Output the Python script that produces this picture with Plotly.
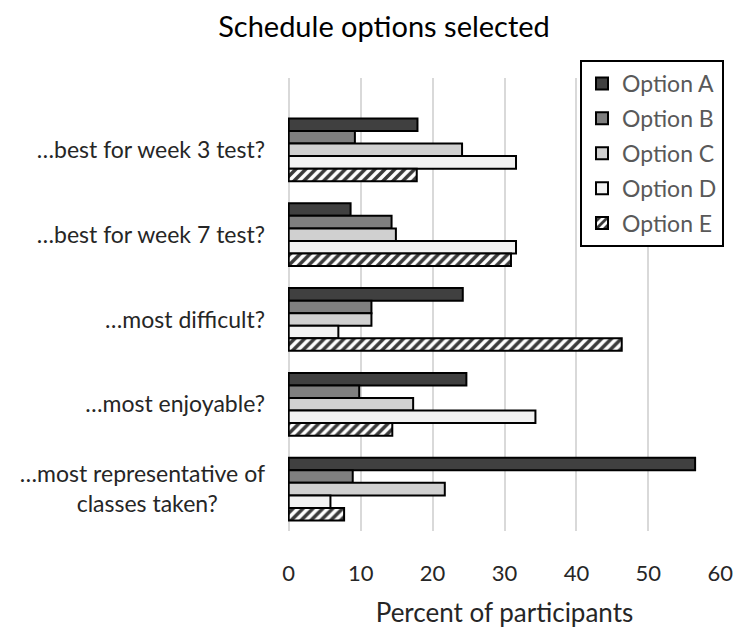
import plotly.graph_objects as go

categories = [
    "…best for week 3 test?",
    "…best for week 7 test?",
    "…most difficult?",
    "…most enjoyable?",
    "…most representative of classes taken?",
]
tick_text = [
    "…best for week 3 test?",
    "…best for week 7 test?",
    "…most difficult?",
    "…most enjoyable?",
    "…most representative of<br>classes taken?" + "\u00a0" * 8,
]
series_names = ["Option A", "Option B", "Option C", "Option D", "Option E"]
option_a = [17.9, 8.6, 24.2, 24.7, 56.5]
option_b = [9.2, 14.3, 11.5, 9.8, 8.9]
option_c = [24.1, 14.9, 11.5, 17.3, 21.7]
option_d = [31.6, 31.6, 6.9, 34.3, 5.8]
option_e = [17.8, 30.9, 46.3, 14.4, 7.7]
x_ticks = [0, 10, 20, 30, 40, 50, 60]

values = [option_a, option_b, option_c, option_d, option_e]
fills = ["#404040", "#7f7f7f", "#d0d0d0", "#f2f2f2", "#ffffff"]

FONT = "Lato, Open Sans, sans-serif"

fig = go.Figure()
for i, (name, vals, col) in enumerate(zip(series_names, values, fills)):
    marker = dict(color=col, line=dict(color="#000000", width=2))
    if name == "Option E":
        marker["pattern"] = dict(shape="/", fgcolor="#3a3a3a", bgcolor="#ffffff",
                                 size=7, solidity=0.5, fillmode="replace")
    fig.add_trace(go.Bar(
        y=categories, x=vals, name=name, orientation="h",
        marker=marker, legendgroup=name,
    ))

W, H = 738, 633
L, T = 288, 78
PW, PH = 433, 453
fig.update_layout(
    width=W, height=H,
    barmode="group", bargap=0.26, bargroupgap=0,
    plot_bgcolor="white", paper_bgcolor="white",
    margin=dict(l=L, r=W - L - PW, t=T, b=H - T - PH, autoexpand=False),
    font=dict(family=FONT, size=23, color="#404040"),
    title=dict(text="Schedule options selected", x=384 / W, xanchor="center",
               y=1 - 27 / H, yanchor="middle",
               font=dict(family=FONT, size=29, color="#000000")),
    legend=dict(
        x=(580 - L) / PW, y=(T + PH - 60) / PH, xanchor="left", yanchor="top",
        bordercolor="#000000", borderwidth=2, bgcolor="white",
        font=dict(family=FONT, size=23, color="#595959"),
        tracegroupgap=2, traceorder="grouped",
    ),
    showlegend=True,
)

fig.update_xaxes(
    range=[-0.1, 60.1], tickvals=x_ticks, showgrid=True,
    gridcolor="#d9d9d9", gridwidth=2, zeroline=True, zerolinecolor="#d9d9d9",
    zerolinewidth=2, showline=False, ticklabelstandoff=27,
    tickfont=dict(family=FONT, size=22, color="#262626"),
    title=dict(text="Percent of participants", standoff=18,
               font=dict(family=FONT, size=26, color="#262626")),
    automargin=False,
)
fig.update_yaxes(
    range=[4.494, -0.847], tickvals=categories, ticktext=tick_text,
    showgrid=False, showline=False, ticklabelstandoff=22,
    tickfont=dict(family=FONT, size=23, color="#262626"),
    automargin=False,
)

fig.write_html(
    "out.html",
    config={"displayModeBar": False},
    post_script="document.body.style.margin='0';document.body.style.overflow='hidden';",
)
